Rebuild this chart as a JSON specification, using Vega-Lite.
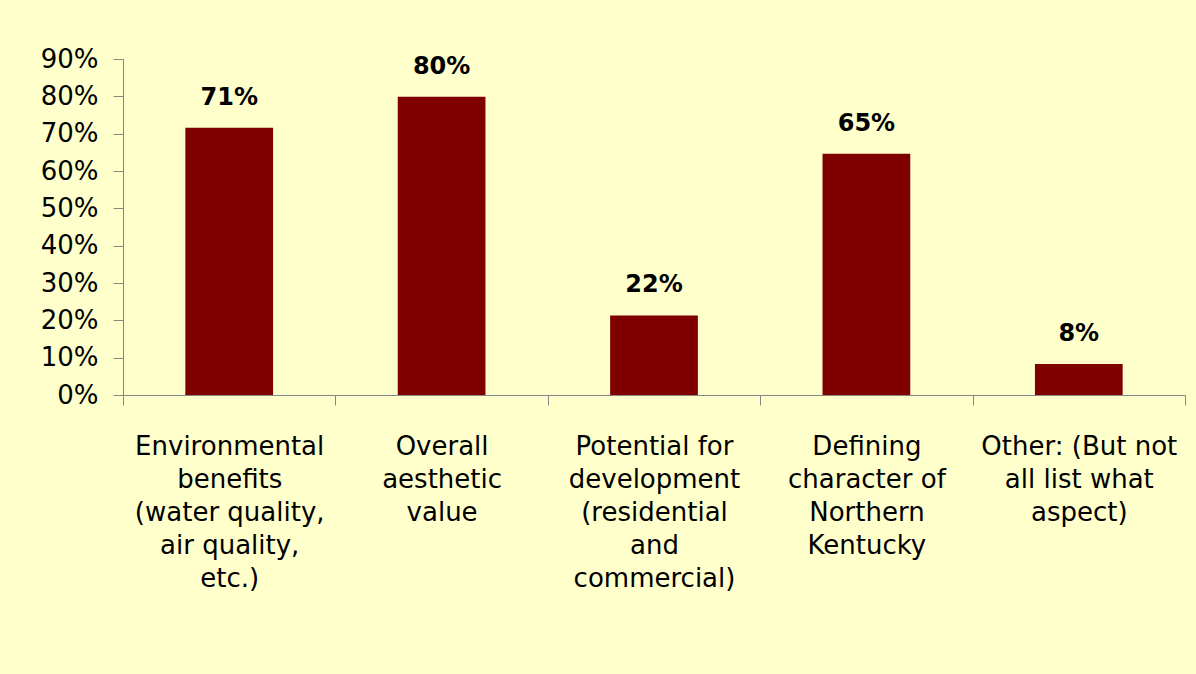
{
  "$schema": "https://vega.github.io/schema/vega-lite/v6.json",
  "autosize": {"type": "none"},
  "width": 1062,
  "height": 336,
  "padding": {"left": 123, "top": 59, "right": 11, "bottom": 279},
  "background": "#FFFFCC",
  "config": {
    "view": {"stroke": null},
    "font": "DejaVu Sans"
  },
  "data": {
    "values": [
      {"cat": "Environmental|benefits|(water quality,|air quality,|etc.)", "value": 0.716, "label": "71%"},
      {"cat": "Overall|aesthetic|value", "value": 0.799, "label": "80%"},
      {"cat": "Potential for|development|(residential|and|commercial)", "value": 0.213, "label": "22%"},
      {"cat": "Defining|character of|Northern|Kentucky", "value": 0.646, "label": "65%"},
      {"cat": "Other: (But not|all list what|aspect)", "value": 0.083, "label": "8%"}
    ]
  },
  "encoding": {
    "x": {
      "field": "cat",
      "type": "nominal",
      "sort": null,
      "scale": {"paddingInner": 0, "paddingOuter": 0},
      "axis": {
        "title": null,
        "labelAngle": 0,
        "labelExpr": "datum.value ? split(datum.value, '|') : ''",
        "labelFont": "DejaVu Sans",
        "labelFontSize": 26,
        "labelColor": "#000000",
        "labelLineHeight": 33,
        "labelBaseline": "top",
        "labelPadding": 28,
        "labelLimit": 400,
        "tickBand": "extent",
        "tickSize": 10,
        "tickColor": "#868686",
        "domainColor": "#868686",
        "domainWidth": 1,
        "grid": false
      }
    },
    "y": {
      "field": "value",
      "type": "quantitative",
      "scale": {"domain": [0, 0.9]},
      "axis": {
        "title": null,
        "values": [0, 0.1, 0.2, 0.3, 0.4, 0.5, 0.6, 0.7, 0.8, 0.9],
        "format": ".0%",
        "grid": false,
        "labelFont": "DejaVu Sans",
        "labelFontSize": 26,
        "labelColor": "#000000",
        "labelPadding": 15,
        "tickSize": 10,
        "tickColor": "#868686",
        "domainColor": "#868686"
      }
    }
  },
  "layer": [
    {"mark": {"type": "bar", "color": "#7F0000", "width": {"band": 0.413}}},
    {
      "mark": {"type": "text", "baseline": "bottom", "dy": -18, "fontSize": 24, "fontWeight": "bold", "color": "#000000", "font": "DejaVu Sans"},
      "encoding": {"text": {"field": "label"}}
    }
  ]
}
